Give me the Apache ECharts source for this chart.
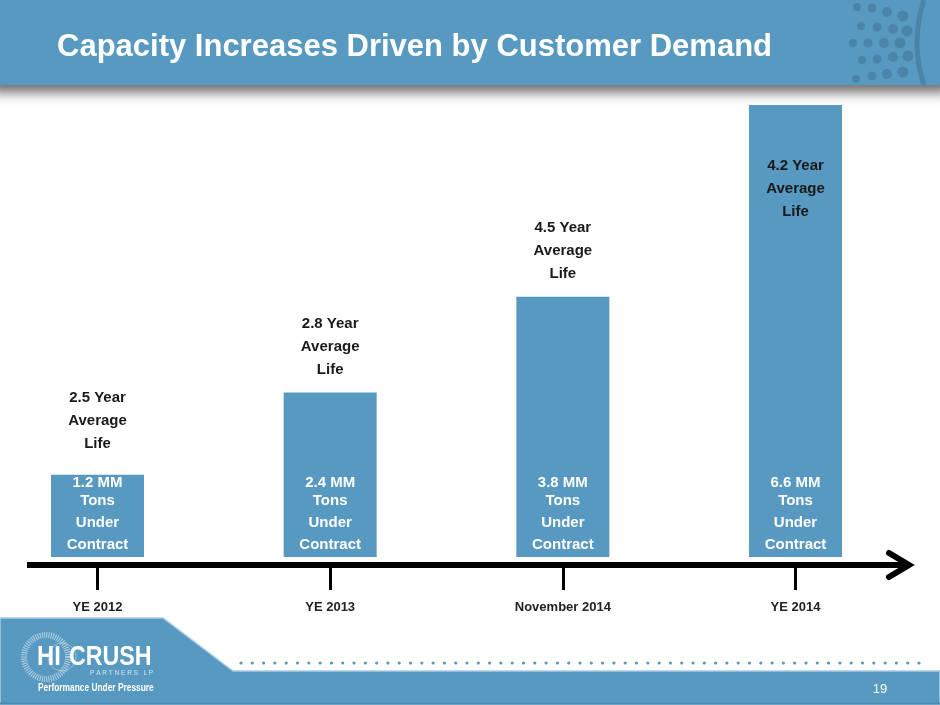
<!DOCTYPE html>
<html>
<head>
<meta charset="utf-8">
<script src="https://cdn.jsdelivr.net/npm/echarts@6/dist/echarts.min.js"></script>
<style>
html,body{margin:0;padding:0;background:#fff;}
#chart{width:940px;height:705px;}
</style>
</head>
<body>
<div id="chart"></div>
<script>
// ---- data ----
const categories = ['YE 2012', 'YE 2013', 'November 2014', 'YE 2014'];
const tonsUnderContract = [1.2, 2.4, 3.8, 6.6];   // MM tons
const averageLifeYears = [2.5, 2.8, 4.5, 4.2];    // years
const titleText = 'Capacity Increases Driven by Customer Demand';
const pageNumber = '19';

const BLUE = '#5799C0';
const DARK_BLUE = '#4A85A9';
const FONT = '"Liberation Sans", Arial, Helvetica, sans-serif';

const chart = echarts.init(document.getElementById('chart'));

// decorative elements
const graphics = [];
// header band with shadow
graphics.push({
  type: 'rect', z: -10, shape: {x: -10, y: -10, width: 960, height: 95},
  style: {fill: BLUE, shadowBlur: 12, shadowOffsetY: 7, shadowColor: 'rgba(0,0,0,0.6)'}
});
// header halftone dots
const headerDots = [
  [857,7,4],[872,8,4.5],[887,12,5],[903,16,5.5],
  [861,26,4],[877,27,4.5],[893,29,5],[907,31,5.5],
  [853,43,4],[868,43,4.5],[884,43,5],[900,43,5.5],
  [862,60,4],[877,59,4.5],[893,57,5],[908,56,5.5],
  [856,79,4],[872,76,4.5],[887,74,5],[903,72,5.5]
];
headerDots.forEach(d => graphics.push({
  type: 'circle', z: -9, shape: {cx: d[0], cy: d[1], r: d[2]}, style: {fill: DARK_BLUE}
}));
graphics.push({
  type: 'bezierCurve', z: -9,
  shape: {x1: 924, y1: 0, x2: 924, y2: 85, cpx1: 910, cpy1: 43},
  style: {stroke: DARK_BLUE, lineWidth: 5, fill: null}
});
// timeline axis with arrow
graphics.push({
  type: 'line', z: 5, shape: {x1: 27, y1: 565, x2: 908, y2: 565},
  style: {stroke: '#000', lineWidth: 6}
});
graphics.push({
  type: 'polyline', z: 5, shape: {points: [[889, 553], [909, 565], [889, 577]]},
  style: {stroke: '#000', lineWidth: 6, fill: null, lineJoin: 'miter', lineCap: 'round'}
});
// footer shape
graphics.push({
  type: 'polygon', z: -10,
  shape: {points: [[0, 618], [163, 618], [233, 671], [940, 671], [940, 705], [0, 705]]},
  style: {fill: BLUE, stroke: '#A8CCE2', lineWidth: 1.5}
});
graphics.push({
  type: 'line', z: -9, shape: {x1: 0, y1: 703.5, x2: 940, y2: 703.5},
  style: {stroke: '#4C8AB0', lineWidth: 2}
});
// footer dotted row
for (let x = 241; x <= 930; x += 11.3) {
  graphics.push({type: 'circle', z: -9, shape: {cx: x, cy: 663, r: 1.6}, style: {fill: BLUE}});
}
// logo
graphics.push({
  type: 'circle', z: -8, shape: {cx: 46, cy: 657, r: 22},
  style: {fill: null, stroke: 'rgba(255,255,255,0.55)', lineWidth: 6, lineDash: [1, 1.2]}
});
graphics.push({
  type: 'circle', z: -8, shape: {cx: 62, cy: 657, r: 14},
  style: {fill: null, stroke: 'rgba(255,255,255,0.35)', lineWidth: 1}
});
graphics.push({
  type: 'text', z: -7, x: 37, y: 657, scaleX: 0.85,
  style: {text: 'HI', fill: '#fff', font: 'bold 28px ' + FONT, verticalAlign: 'middle'}
});
graphics.push({
  type: 'text', z: -7, x: 69, y: 657, scaleX: 0.83,
  style: {text: 'CRUSH', fill: '#fff', font: 'bold 28px ' + FONT, verticalAlign: 'middle'}
});
graphics.push({
  type: 'text', z: -7, x: 90, y: 673,
  style: {text: 'P A R T N E R S   L P', fill: 'rgba(255,255,255,0.75)', font: '6.5px ' + FONT, verticalAlign: 'middle'}
});
graphics.push({
  type: 'text', z: -7, x: 38, y: 688, scaleX: 0.76,
  style: {text: 'Performance Under Pressure', fill: '#fff', font: 'bold 11px ' + FONT, verticalAlign: 'middle'}
});
graphics.push({
  type: 'text', z: -7, x: 880, y: 689,
  style: {text: pageNumber, fill: '#fff', font: '13px ' + FONT, verticalAlign: 'middle', align: 'center'}
});

const lifeData = tonsUnderContract.map((v, i) => {
  if (i === tonsUnderContract.length - 1) {
    return {value: v, label: {position: 'insideTop', distance: 49}};
  }
  if (i === 0) return {value: v, label: {distance: 19}};
  return v;
});

chart.setOption({
  animation: false,
  textStyle: {fontFamily: FONT},
  title: {
    text: titleText, left: 57, top: 32, padding: 0,
    textStyle: {color: '#fff', fontSize: 31, fontWeight: 'bold', fontFamily: FONT}
  },
  grid: {left: 97.5, right: 144.5, top: 77.5, bottom: 148},
  xAxis: {
    type: 'category', data: categories, offset: 9, boundaryGap: false,
    axisLine: {show: false, onZero: false},
    axisTick: {show: true, length: 24, lineStyle: {color: '#000', width: 3}},
    axisLabel: {margin: 35, color: '#222', fontSize: 13, fontWeight: 'bold', fontFamily: FONT},
    splitLine: {show: false}
  },
  yAxis: {type: 'value', min: 0, max: 7, show: false, splitLine: {show: false}},
  series: [
    {
      type: 'bar', data: tonsUnderContract, barWidth: 93, z: 2, clip: false,
      itemStyle: {color: BLUE},
      label: {
        show: true, position: 'insideBottom', distance: 1,
        formatter: p => '{a|' + p.value.toFixed(1) + ' MM}\n{b|Tons}\n{b|Under}\n{b|Contract}',
        rich: {
          a: {color: '#fff', fontSize: 15, fontWeight: 'bold', lineHeight: 14, fontFamily: FONT, align: 'center'},
          b: {color: '#fff', fontSize: 15, fontWeight: 'bold', lineHeight: 22, fontFamily: FONT, align: 'center'}
        }
      }
    },
    {
      type: 'bar', data: lifeData, barWidth: 93, barGap: '-100%', z: 3, clip: false,
      itemStyle: {color: 'rgba(0,0,0,0)'},
      label: {
        show: true, position: 'top', distance: 11,
        formatter: p => '{c|' + averageLifeYears[p.dataIndex].toFixed(1) + ' Year}\n{c|Average}\n{c|Life}',
        rich: {
          c: {color: '#1a1a1a', fontSize: 15, fontWeight: 'bold', lineHeight: 23, fontFamily: FONT, align: 'center'}
        }
      }
    }
  ],
  graphic: graphics
});
</script>
</body>
</html>
